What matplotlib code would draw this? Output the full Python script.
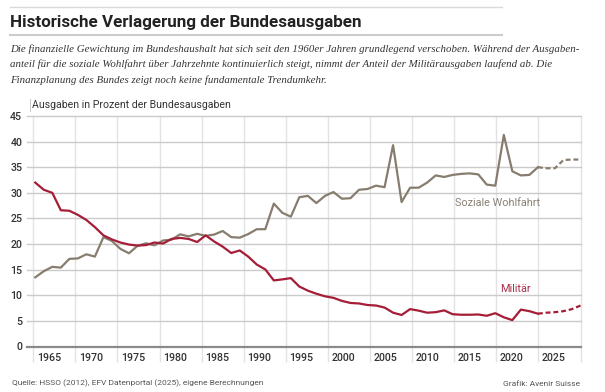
import numpy as np
import matplotlib
matplotlib.use("Agg")
import matplotlib.pyplot as plt
from matplotlib.lines import Line2D

# Daten (Anteil an den Bundesausgaben in %)
years = list(range(1964, 2029))
soziale = [13.5, 14.7, 15.55, 15.4, 17.1, 17.2, 18.0, 17.55, 21.35, 20.6,
           19.05, 18.2, 19.65, 20.15, 19.75, 20.7, 20.85, 21.9, 21.5, 22.0,
           21.6, 21.85, 22.55, 21.35, 21.25, 21.95, 22.9, 22.9, 27.9, 26.1,
           25.35, 29.15, 29.4, 28.0, 29.4, 30.15, 28.85, 28.95, 30.6, 30.75,
           31.4, 31.1, 39.3, 28.2, 31.0, 31.0, 32.0, 33.4, 33.1, 33.5,
           33.7, 33.8, 33.6, 31.6, 31.4, 41.3, 34.2, 33.4, 33.5, 35.0,
           34.8, 34.8, 36.4, 36.5, 36.5]
militaer = [32.0, 30.6, 30.0, 26.6, 26.5, 25.7, 24.7, 23.3, 21.7, 20.9,
            20.3, 19.9, 19.7, 19.8, 20.3, 20.1, 21.0, 21.2, 21.0, 20.4,
            21.7, 20.5, 19.5, 18.25, 18.75, 17.55, 16.0, 15.05, 12.9, 13.1,
            13.35, 11.7, 10.9, 10.3, 9.8, 9.5, 8.9, 8.5, 8.4, 8.1,
            8.0, 7.6, 6.6, 6.15, 7.3, 7.0, 6.6, 6.7, 7.05, 6.3,
            6.2, 6.2, 6.25, 6.0, 6.5, 5.7, 5.15, 7.2, 6.9, 6.4,
            6.6, 6.7, 6.9, 7.3, 8.0]
last_actual = 2023  # danach Finanzplanung (gestrichelt)
tick_years = [1965, 1970, 1975, 1980, 1985, 1990, 1995, 2000, 2005, 2010, 2015, 2020, 2025]
y_ticks = [0, 5, 10, 15, 20, 25, 30, 35, 40, 45]

C_SOZ = "#877d6f"
C_MIL = "#a51d36"
SANS = "Roboto"

W, H = 605, 392
fig = plt.figure(figsize=(W / 100, H / 100), dpi=100)
fig.patch.set_facecolor("white")
renderer = fig.canvas.get_renderer()


def fx(px):
    return px / W


def fy(py):
    return 1 - py / H


def fit(t, target_px):
    # Schriftgroesse so anpassen, dass der Text etwa die Breite im Original hat
    w = t.get_window_extent(renderer=renderer).width
    t.set_fontsize(t.get_fontsize() * target_px / w)
    return t


ax = fig.add_axes([fx(33.3), fy(346.5), fx(580.5) - fx(33.3), fy(116) - fy(346.5)])
x0, x1 = 1963.77, 2028.0
ax.set_xlim(x0, x1)
ax.set_ylim(0, 45)
for s in ax.spines.values():
    s.set_visible(False)

# Gitter
grid_x = np.linspace(x0, x1, 14)
ax.vlines(grid_x, -3, 45, color="#e2e2e2", lw=1.0, clip_on=False, zorder=0)
for v in y_ticks[1:]:
    ax.axhline(v, xmin=-0.0115, xmax=1, color="#cbcbcb", lw=1.0, clip_on=False, zorder=0)
ax.axhline(0, xmin=-0.0115, xmax=1, color="#8a8a8a", lw=1.6, clip_on=False, zorder=1)

# Linien
yrs = np.array(years)
soz = np.array(soziale)
mil = np.array(militaer)
act = yrs <= last_actual
plan = yrs >= last_actual
dash = (0, (2.2, 1.3))
ax.plot(yrs[act], soz[act], color=C_SOZ, lw=1.6, zorder=3)
ax.plot(yrs[plan], soz[plan], color=C_SOZ, lw=1.6, ls=dash, zorder=3)
ax.plot(yrs[act], mil[act], color=C_MIL, lw=1.6, zorder=3)
ax.plot(yrs[plan], mil[plan], color=C_MIL, lw=1.6, ls=dash, zorder=3)

# Achsen
step = grid_x[1] - grid_x[0]
ax.set_xticks(grid_x[:-1] + 0.368 * step)
ax.set_xticklabels([str(t) for t in tick_years])
ax.set_yticks(y_ticks)
ax.set_yticklabels([str(t) for t in y_ticks])
ax.tick_params(axis="both", length=0, labelsize=7.7, colors="#333333")
ax.tick_params(axis="x", pad=5)
ax.tick_params(axis="y", pad=8)
for lab in ax.get_xticklabels() + ax.get_yticklabels():
    lab.set_family(SANS)
    lab.set_fontweight("medium")

# Texte
fig.add_artist(Line2D([fx(10), fx(502)], [fy(7), fy(7)], color="#d9d9d9", lw=1.0))
fig.add_artist(Line2D([fx(10), fx(502)], [fy(35), fy(35)], color="#cccccc", lw=1.5))
title = fig.text(fx(10), fy(27), "Historische Verlagerung der Bundesausgaben",
                 family=SANS, fontweight="bold", fontsize=12, color="#222222", va="baseline")
fit(title, 350)

sub = ["Die finanzielle Gewichtung im Bundeshaushalt hat sich seit den 1960er Jahren grundlegend verschoben. Während der Ausgaben-",
       "anteil für die soziale Wohlfahrt über Jahrzehnte kontinuierlich steigt, nimmt der Anteil der Militärausgaben laufend ab. Die",
       "Finanzplanung des Bundes zeigt noch keine fundamentale Trendumkehr."]
sub_texts = []
for i, line in enumerate(sub):
    sub_texts.append(fig.text(fx(10), fy(51.5 + 15.7 * i), line, family="Liberation Serif",
                              style="italic", fontsize=8, color="#333333", va="baseline"))
fit(sub_texts[0], 573)
for t in sub_texts[1:]:
    t.set_fontsize(sub_texts[0].get_fontsize())

fig.add_artist(Line2D([fx(29.5), fx(29.5)], [fy(99), fy(111)], color="#cccccc", lw=0.8))
ylab = fig.text(fx(32), fy(107.5), "Ausgaben in Prozent der Bundesausgaben", family=SANS,
                fontsize=8, color="#333333", va="baseline")
fit(ylab, 198)

soz_lab = fig.text(fx(455), fy(206.5), "Soziale Wohlfahrt", family=SANS, fontsize=8,
                   color="#8a8274", va="baseline")
fit(soz_lab, 86)
fig.text(fx(500), fy(291.7), "Militär", family=SANS, fontsize=soz_lab.get_fontsize(),
         color="#a8304a", va="baseline")

src = fig.text(fx(12), fy(385.5), "Quelle: HSSO (2012), EFV Datenportal (2025), eigene Berechnungen",
               family=SANS, fontsize=6.5, color="#555555", va="baseline")
fit(src, 250)
fig.text(fx(580), fy(385.5), "Grafik: Avenir Suisse", family=SANS, fontsize=src.get_fontsize(),
         color="#555555", va="baseline", ha="right")

fig.savefig("out.png", dpi=100, facecolor="white")
